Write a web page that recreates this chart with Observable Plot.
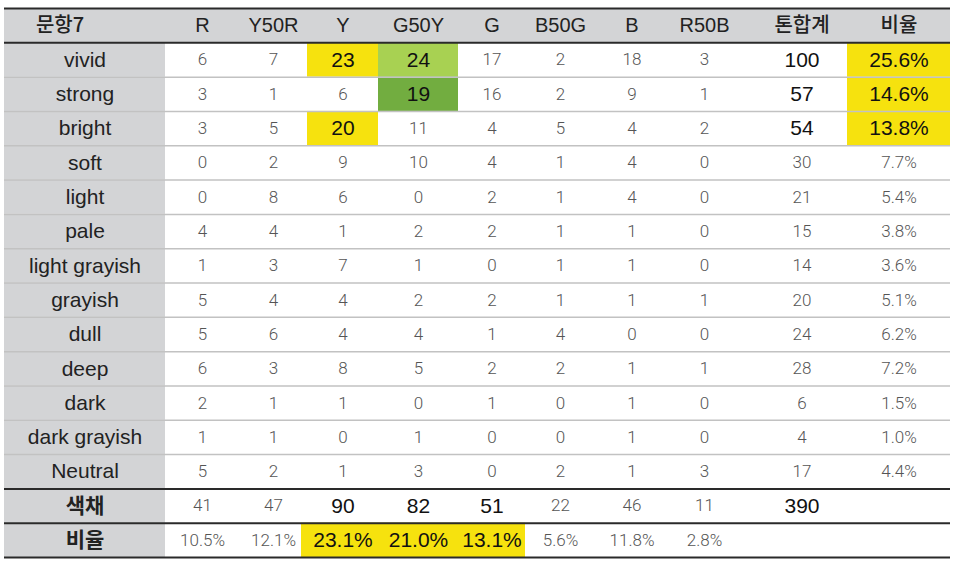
<!DOCTYPE html>
<html><head><meta charset="utf-8">
<script src="https://cdn.jsdelivr.net/npm/d3@7"></script>
<script src="https://cdn.jsdelivr.net/npm/@observablehq/plot@0.6"></script>
<style>body{margin:0;background:#fff}</style>
</head><body><div id="chart"></div>
<script>
// ---------- data ----------
const cornerLabel = "문항7";
const colorNames = ["R", "Y50R", "Y", "G50Y", "G", "B50G", "B", "R50B"];
const totalLabel = "톤합계";
const ratioLabel = "비율";
const tones = ["vivid", "strong", "bright", "soft", "light", "pale", "light grayish",
  "grayish", "dull", "deep", "dark", "dark grayish", "Neutral"];
const counts = [
  [6, 7, 23, 24, 17, 2, 18, 3],
  [3, 1, 6, 19, 16, 2, 9, 1],
  [3, 5, 20, 11, 4, 5, 4, 2],
  [0, 2, 9, 10, 4, 1, 4, 0],
  [0, 8, 6, 0, 2, 1, 4, 0],
  [4, 4, 1, 2, 2, 1, 1, 0],
  [1, 3, 7, 1, 0, 1, 1, 0],
  [5, 4, 4, 2, 2, 1, 1, 1],
  [5, 6, 4, 4, 1, 4, 0, 0],
  [6, 3, 8, 5, 2, 2, 1, 1],
  [2, 1, 1, 0, 1, 0, 1, 0],
  [1, 1, 0, 1, 0, 0, 1, 0],
  [5, 2, 1, 3, 0, 2, 1, 3]
];
const toneTotals = [100, 57, 54, 30, 21, 15, 14, 20, 24, 28, 6, 4, 17];
const toneRatios = [25.6, 14.6, 13.8, 7.7, 5.4, 3.8, 3.6, 5.1, 6.2, 7.2, 1.5, 1.0, 4.4];
const colorTotalLabel = "색채";
const colorTotals = [41, 47, 90, 82, 51, 22, 46, 11];
const grandTotal = 390;
const colorRatioLabel = "비율";
const colorRatios = [10.5, 12.1, 23.1, 21.0, 13.1, 5.6, 11.8, 2.8];

// ---------- style / layout ----------
const YELLOW = "#f6e20e", LIGHTGREEN = "#a8d152", GREEN = "#72ad40", GRAY = "#d3d4d6";
const cellHighlights = [
  {tone: "vivid", color: "Y", fill: YELLOW},
  {tone: "vivid", color: "G50Y", fill: LIGHTGREEN},
  {tone: "strong", color: "G50Y", fill: GREEN},
  {tone: "bright", color: "Y", fill: YELLOW}
];
const colWeights = [161, 74, 68, 71, 80, 67, 70, 73, 72, 107, 103];
const edges = [0];
colWeights.forEach(w => edges.push(edges[edges.length - 1] + w));
const W = edges[edges.length - 1];
const nRows = tones.length + 3;
const colX1 = c => edges[c], colX2 = c => edges[c + 1], colMid = c => (edges[c] + edges[c + 1]) / 2;
const top3 = arr => arr.map((v, i) => [v, i]).sort((a, b) => b[0] - a[0]).slice(0, 3).map(d => d[1]);
const bigTones = new Set(top3(toneTotals));
const bigColors = new Set(top3(colorTotals));

// backgrounds
const bg = [];
for (let c = 0; c < colWeights.length; c++) bg.push({c, r: 0, fill: GRAY});
for (let r = 1; r < nRows; r++) bg.push({c: 0, r, fill: GRAY});
cellHighlights.forEach(h => bg.push({c: colorNames.indexOf(h.color) + 1, r: tones.indexOf(h.tone) + 1, fill: h.fill}));
bigTones.forEach(i => bg.push({c: 10, r: i + 1, fill: YELLOW}));
bigColors.forEach(i => bg.push({c: i + 1, r: nRows - 1, fill: YELLOW, ext: 6}));

// texts
const headerTexts = [], labelTexts = [], lightTexts = [], bigTexts = [];
const fmtPct = v => v.toFixed(1) + "%";
headerTexts.push({c: 0, r: 0, t: cornerLabel, k: true, dx: -25});
colorNames.forEach((n, i) => headerTexts.push({c: i + 1, r: 0, t: n}));
headerTexts.push({c: 9, r: 0, t: totalLabel, k: true, dx: 8});
headerTexts.push({c: 10, r: 0, t: ratioLabel, k: true});
tones.forEach((t, i) => labelTexts.push({c: 0, r: i + 1, t}));
labelTexts.push({c: 0, r: nRows - 2, t: colorTotalLabel, k: true});
labelTexts.push({c: 0, r: nRows - 1, t: colorRatioLabel, k: true});
const hlSet = new Set(cellHighlights.map(h => h.tone + "|" + h.color));
counts.forEach((row, i) => row.forEach((v, j) => {
  const d = {c: j + 1, r: i + 1, t: String(v)};
  (hlSet.has(tones[i] + "|" + colorNames[j]) ? bigTexts : lightTexts).push(d);
}));
toneTotals.forEach((v, i) => (bigTones.has(i) ? bigTexts : lightTexts).push({c: 9, r: i + 1, t: String(v), dx: 8}));
toneRatios.forEach((v, i) => (bigTones.has(i) ? bigTexts : lightTexts).push({c: 10, r: i + 1, t: fmtPct(v)}));
colorTotals.forEach((v, i) => (bigColors.has(i) ? bigTexts : lightTexts).push({c: i + 1, r: nRows - 2, t: String(v)}));
bigTexts.push({c: 9, r: nRows - 2, t: String(grandTotal), dx: 8});
colorRatios.forEach((v, i) => (bigColors.has(i) ? bigTexts : lightTexts).push({c: i + 1, r: nRows - 1, t: fmtPct(v)}));

const lightRules = d3.range(2, tones.length + 1);
const darkRules = [0, 1, nRows - 2, nRows - 1, nRows];

const FONT = "'Liberation Sans', Arial, 'Noto Sans CJK KR', sans-serif";
const KFONT = "'Noto Sans CJK KR', 'Liberation Sans', sans-serif";
const textMark = (data, opts) => Plot.text(data, {
  x: d => colMid(d.c) + (d.dx || 0), y: d => d.r + 0.5, text: d => d.t, ...opts
});

const chart = Plot.plot({
  width: 957, height: 564,
  marginLeft: 4, marginRight: 7, marginTop: 8, marginBottom: 7,
  x: {type: "linear", domain: [0, W], axis: null},
  y: {type: "linear", domain: [nRows, 0], axis: null},
  color: {type: "identity"},
  style: {background: "#fff"},
  marks: [
    Plot.rect(bg, {x1: d => colX1(d.c) - (d.ext && d.c === 3 ? d.ext : 0), x2: d => colX2(d.c), y1: d => d.r, y2: d => d.r + 1, fill: d => d.fill}),
    Plot.ruleY(lightRules, {x1: 0, x2: W, stroke: "#c2c2c2", strokeWidth: 1.5}),
    Plot.ruleY(darkRules, {x1: 0, x2: W, stroke: "#2a2a2a", strokeWidth: 2}),
    textMark(headerTexts.filter(d => !d.k), {fontSize: 20, fill: "#222", fontFamily: FONT}),
    textMark(headerTexts.filter(d => d.k), {fontSize: 20, fill: "#222", fontFamily: KFONT, fontWeight: 500}),
    textMark(labelTexts.filter(d => !d.k), {fontSize: 21, fill: "#222", fontFamily: FONT}),
    textMark(labelTexts.filter(d => d.k), {fontSize: 21, fill: "#222", fontFamily: KFONT, fontWeight: 700}),
    textMark(lightTexts, {fontSize: 17, fill: "#555", fontFamily: "Roboto, 'Liberation Sans', sans-serif", fontWeight: 300}),
    textMark(bigTexts, {fontSize: 21, fill: "#111", fontFamily: FONT})
  ]
});
document.getElementById("chart").appendChild(chart);
</script>
</body></html>
